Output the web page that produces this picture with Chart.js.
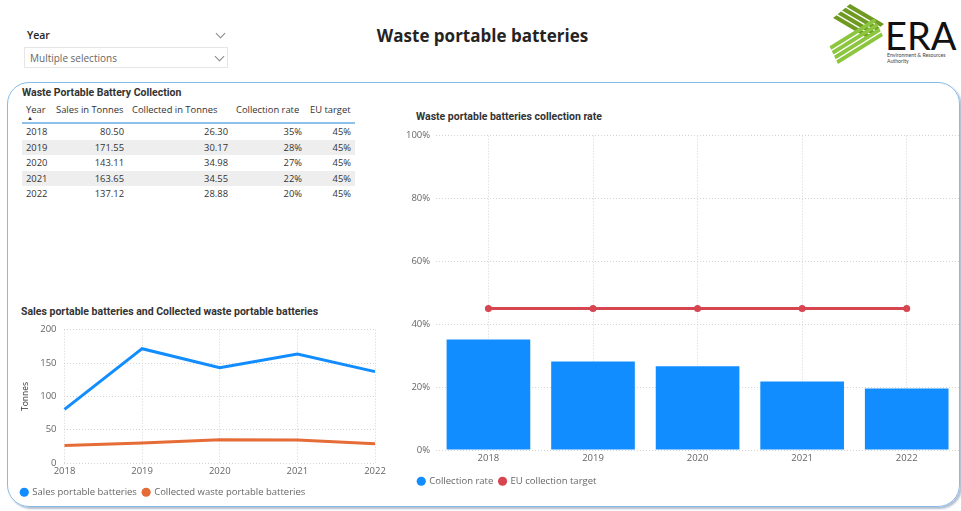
<!DOCTYPE html>
<html>
<head>
<meta charset="utf-8">
<script src="https://cdn.jsdelivr.net/npm/chart.js@4"></script>
<style>
  body { margin: 0; width: 961px; height: 511px; background: #fff; font-family: "Open Sans", "Noto Sans", sans-serif; overflow: hidden; position: relative; }
  .abs { position: absolute; }
  #frame { left: 7px; top: 82px; width: 953px; height: 425px; border: 1.5px solid #86bce8; border-radius: 22px; box-sizing: border-box; box-shadow: 2px 2px 2px rgba(40,70,120,.35); }
  #pageTitle { left: 0; width: 961px; top: 24px; text-align: center; font-size: 17px; font-weight: 700; color: #252423; padding-left: 2px; }
  #slicerLabel { left: 27px; top: 28px; font-size: 10.5px; font-weight: 600; color: #252423; }
  #slicerBox { left: 24px; top: 47px; width: 204px; height: 21px; border: 1px solid #e6e6e6; box-sizing: border-box; font-size: 10px; color: #666; padding: 3px 0 0 5px; }
  .chev { width: 6px; height: 6px; border-right: 1px solid #888; border-bottom: 1px solid #888; transform: rotate(45deg); }
  .vtitle { font-family: Roboto, sans-serif; font-weight: 700; font-size: 10.5px; color: #333; }
  #tbl { left: 22px; top: 103px; border-collapse: collapse; table-layout: fixed; width: 333px; font-size: 9.4px; color: #333; }
  #tbl th { font-weight: 400; color: #333; text-align: left; padding: 0 0 6px 4px; border-bottom: 2px solid #8fc2ea; white-space: nowrap; position: relative; overflow: visible; }
  #tbl td { padding: 0 4px 0 0; height: 15.5px; line-height: 15.5px; text-align: right; }
  #tbl td:first-child { text-align: left; padding-left: 4px; }
  #tbl tr.alt td { background: #eeeeee; }
</style>
</head>
<body>
<div id="frame" class="abs"></div>

<div id="slicerLabel" class="abs">Year</div>
<div class="abs chev" style="left:217px; top:30px;"></div>
<div id="slicerBox" class="abs">Multiple selections</div>
<div class="abs chev" style="left:216px; top:53px;"></div>

<div id="pageTitle" class="abs">Waste portable batteries</div>

<!-- ERA logo -->
<svg id="logo" class="abs" style="left:0; top:0;" width="961" height="70"></svg>

<div class="abs vtitle" style="left:22px; top:86px;">Waste Portable Battery Collection</div>
<table id="tbl" class="abs">
  <colgroup><col style="width:30px"><col style="width:76px"><col style="width:104px"><col style="width:74px"><col style="width:49px"></colgroup>
</table>

<div class="abs vtitle" style="left:21px; top:305px;">Sales portable batteries and Collected waste portable batteries</div>
<div class="abs" style="left:8px; top:316px; width:385px; height:188px;"><canvas id="chartLine"></canvas></div>

<div class="abs vtitle" style="left:416px; top:110px;">Waste portable batteries collection rate</div>
<div class="abs" style="left:400px; top:124px; width:563px; height:367px;"><canvas id="chartRate"></canvas></div>

<script>
const years = ["2018", "2019", "2020", "2021", "2022"];
const salesTonnes = [80.50, 171.55, 143.11, 163.65, 137.12];
const collectedTonnes = [26.30, 30.17, 34.98, 34.55, 28.88];
const collectionRate = [35.2, 28.2, 26.7, 21.8, 19.6];
const euTarget = [45, 45, 45, 45, 45];
const tonneTicks = [0, 50, 100, 150, 200];
const rateTicks = [0, 20, 40, 60, 80, 100];

const BLUE = "#118DFF", ORANGE = "#E66C37", RED = "#D64550";
const tickFont = {family: "'Open Sans', 'Noto Sans', sans-serif", size: 9.5};

// logo: two striped arms and the ERA lettering
(function () {
  const svg = document.querySelector("#logo");
  let s = "";
  const arm = (ox, oy, ux, uy, vx, vy, color) => {
    for (let k = 0; k < 4; k++) {
      const a = k / 4, b = a + 0.19;
      const p = [[ox + vx * a, oy + vy * a], [ox + vx * a + ux, oy + vy * a + uy],
                 [ox + vx * b + ux, oy + vy * b + uy], [ox + vx * b, oy + vy * b]];
      s += `<polygon fill="${color}" points="${p.map(q => q.join(",")).join(" ")}"/>`;
    }
  };
  arm(850, 4, 34, 20, -18, 15, "#6f9a22");
  arm(838, 64, 45, -28, -9, -19, "#8cc63f");
  s += `<text x="885" y="50" font-family="Lato, sans-serif" font-size="38" fill="#111">ERA</text>`;
  s += `<text x="887" y="57" font-family="Lato, sans-serif" font-size="5.2" fill="#444">Environment &amp; Resources</text>`;
  s += `<text x="887" y="63" font-family="Lato, sans-serif" font-size="5.2" fill="#444">Authority</text>`;
  svg.innerHTML = s;
})();

// table
const tbl = document.querySelector("#tbl");
let html = "<tr><th>Year<span style='position:absolute;left:5px;top:11px;font-size:6px'>&#9650;</span></th>" +
  "<th>Sales in Tonnes</th><th>Collected in Tonnes</th><th>Collection rate</th><th>EU target</th></tr>";
years.forEach((y, i) => {
  html += `<tr class="${i % 2 ? "alt" : ""}"><td>${y}</td><td>${salesTonnes[i].toFixed(2)}</td>` +
    `<td>${collectedTonnes[i].toFixed(2)}</td><td>${collectionRate[i].toFixed(0)}%</td><td>${euTarget[i]}%</td></tr>`;
});
tbl.insertAdjacentHTML("beforeend", html);

// moves the legend without touching the plot area
const legendShift = {
  id: "legendShift",
  afterLayout(chart, args, opts) {
    chart.legend.left += opts.x || 0;
    chart.legend.top += opts.y || 0;
  }
};

const dottedGrid = {color: "#d3d3d3", drawTicks: false, lineWidth: 1};
const dottedBorder = {display: false, dash: [1, 2]};

const legendOpts = {
  position: "bottom",
  align: "start",
  labels: {
    usePointStyle: true, pointStyle: "circle", boxWidth: 6.5, boxHeight: 6.5, padding: 6, color: "#666", font: tickFont,
    generateLabels: chart => Chart.defaults.plugins.legend.labels.generateLabels(chart).map(l => ({...l, lineWidth: 0}))
  }
};

new Chart(document.querySelector("#chartLine"), {
  type: "line",
  plugins: [legendShift],
  data: {
    labels: years,
    datasets: [
      {label: "Sales portable batteries", data: salesTonnes, borderColor: BLUE, backgroundColor: BLUE, borderWidth: 3, pointRadius: 0, tension: 0},
      {label: "Collected waste portable batteries", data: collectedTonnes, borderColor: ORANGE, backgroundColor: ORANGE, borderWidth: 3, pointRadius: 0, tension: 0}
    ]
  },
  options: {
    responsive: true,
    maintainAspectRatio: false,
    animation: false,
    layout: {padding: {left: 10, right: 18, top: 7, bottom: 0}},
    plugins: {legend: legendOpts, legendShift: {x: -3, y: 3}, tooltip: {enabled: false}},
    scales: {
      x: {
        grid: dottedGrid, border: dottedBorder,
        ticks: {color: "#666", font: tickFont, padding: 2, maxRotation: 0}
      },
      y: {
        min: 0, max: 200,
        afterBuildTicks: s => { s.ticks = tonneTicks.map(v => ({value: v})); },
        grid: dottedGrid, border: dottedBorder,
        ticks: {color: "#666", font: tickFont, padding: 8},
        title: {display: true, text: "Tonnes", color: "#333", font: {family: tickFont.family, size: 8.5}, padding: 2}
      }
    }
  }
});

new Chart(document.querySelector("#chartRate"), {
  plugins: [legendShift],
  data: {
    labels: years,
    datasets: [
      {type: "line", label: "EU collection target", data: euTarget, borderColor: RED, backgroundColor: RED, borderWidth: 3, pointRadius: 3.5, pointBorderWidth: 0, order: 0},
      {type: "bar", label: "Collection rate", data: collectionRate, backgroundColor: BLUE, categoryPercentage: 0.8, barPercentage: 1, order: 1}
    ]
  },
  options: {
    responsive: true,
    maintainAspectRatio: false,
    animation: false,
    layout: {padding: {left: 0, right: 0, top: 6, bottom: 0}},
    plugins: {
      legend: {...legendOpts, reverse: true},
      legendShift: {x: 12, y: 5},
      tooltip: {enabled: false}
    },
    scales: {
      x: {
        grid: {...dottedGrid, offset: false}, border: dottedBorder,
        ticks: {color: "#666", font: tickFont, padding: 2}
      },
      y: {
        min: 0, max: 100,
        afterBuildTicks: s => { s.ticks = rateTicks.map(v => ({value: v})); },
        grid: dottedGrid, border: dottedBorder,
        ticks: {color: "#666", font: tickFont, padding: 6, callback: v => v + "%"}
      }
    }
  }
});
</script>
</body>
</html>
